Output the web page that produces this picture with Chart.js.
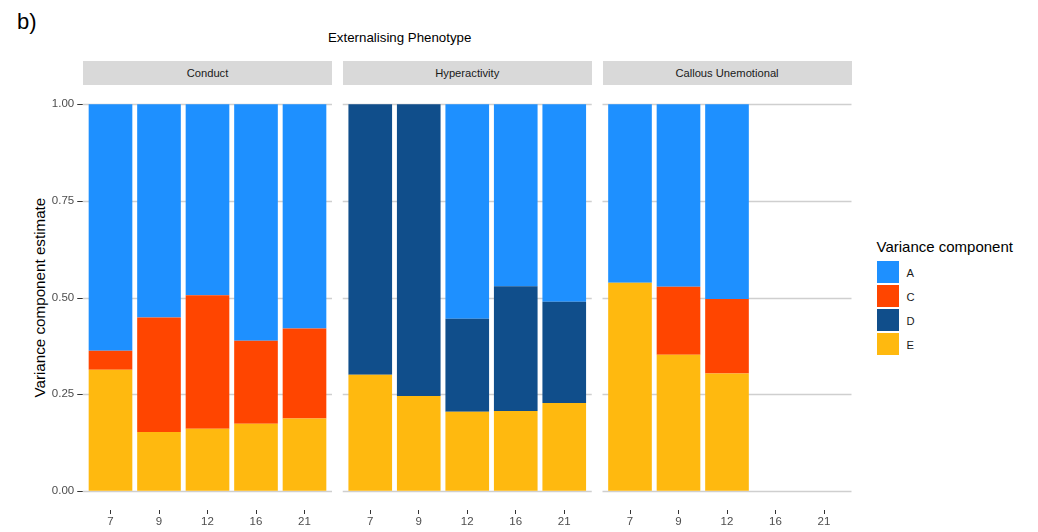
<!DOCTYPE html>
<html>
<head>
<meta charset="utf-8">
<script src="https://cdn.jsdelivr.net/npm/chart.js@4.4.0/dist/chart.umd.min.js"></script>
<style>
  body { margin: 0; background: #fff; font-family: "Liberation Sans", Arial, sans-serif; }
  #wrap { position: relative; width: 1038px; height: 532px; overflow: hidden; background: #fff; }
  #wrap canvas, .txt, .strip, .key { position: absolute; }
  .txt { line-height: 1; white-space: nowrap; }
  .strip { background: #d9d9d9; color: #1a1a1a; font-size: 11.2px; line-height: 24px; height: 24px; text-align: center; top: 61px; }
  .key { width: 22px; height: 22px; }
</style>
</head>
<body>
<div id="wrap">
  <div class="txt" style="left:17px; top:10.9px; font-size:22px; color:#000;">b)</div>
  <div class="txt" style="left:328px; top:31.3px; font-size:13.3px; color:#000;">Externalising Phenotype</div>
  <div class="txt" style="left:-110.5px; top:290px; width:300px; font-size:15.2px; text-align:center; transform:rotate(-90deg); color:#000;">Variance component estimate</div>
  <div class="txt" style="left:876.5px; top:238.8px; font-size:15px; color:#000;">Variance component</div>
</div>
<script>
// Facets and x categories (age)
const panels = ["Conduct", "Hyperactivity", "Callous Unemotional"];
const ages = ["7", "9", "12", "16", "21"];
const components = ["A", "C", "D", "E"];
const yTicks = [0, 0.25, 0.5, 0.75, 1];

// Conduct
const conductA = [0.638, 0.552, 0.494, 0.612, 0.580];
const conductC = [0.049, 0.296, 0.346, 0.215, 0.233];
const conductD = [null, null, null, null, null];
const conductE = [0.313, 0.152, 0.160, 0.173, 0.187];

// Hyperactivity
const hyperA = [null, null, 0.555, 0.471, 0.511];
const hyperC = [null, null, null, null, null];
const hyperD = [0.700, 0.755, 0.241, 0.323, 0.262];
const hyperE = [0.300, 0.245, 0.204, 0.206, 0.227];

// Callous Unemotional (no estimates at 16 and 21)
const callousA = [0.462, 0.472, 0.504, null, null];
const callousC = [null, 0.176, 0.193, null, null];
const callousD = [null, null, null, null, null];
const callousE = [0.538, 0.352, 0.303, null, null];

const panelData = [
  { A: conductA, C: conductC, D: conductD, E: conductE },
  { A: hyperA, C: hyperC, D: hyperD, E: hyperE },
  { A: callousA, C: callousC, D: callousD, E: callousE }
];

const colours = { A: "#1E90FF", C: "#FF4500", D: "#104E8B", E: "#FFB90F" };
const stackOrder = ["E", "D", "C", "A"]; // bottom to top

// canvas placement for each facet
const boxes = [
  { left: 0, width: 336, padL: 0, padR: 7.25 },
  { left: 340, width: 255, padL: 6, padR: 6.5 },
  { left: 599, width: 255, padL: 6.75, padR: 5.75 }
];
const yAxisWidth = 86.25;
const areaWidth = 242.5;
const fontFamily = '"Liberation Sans", Arial, sans-serif';

const wrap = document.getElementById("wrap");

// grey horizontal grid lines over the whole panel (a bit wider than the bars' area)
const panelGrid = {
  id: "panelGrid",
  beforeDatasetsDraw(chart, args, opts) {
    const { ctx, chartArea: a } = chart;
    const y = chart.scales.y;
    ctx.save();
    yTicks.forEach(v => {
      const py = Math.round(y.getPixelForValue(v)) + 0.5;
      ctx.strokeStyle = "#cfcfcf";
      ctx.lineWidth = 1.3;
      ctx.beginPath();
      ctx.moveTo(a.left - 3.25, py);
      ctx.lineTo(a.right + 3.25, py);
      ctx.stroke();
      if (opts.ticks) {
        ctx.strokeStyle = "#333333";
        ctx.lineWidth = 1;
        ctx.beginPath();
        ctx.moveTo(a.left - 9, py);
        ctx.lineTo(a.left - 3.5, py);
        ctx.stroke();
      }
    });
    ctx.restore();
  }
};

panels.forEach((name, i) => {
  const box = boxes[i];
  const areaLeft = box.left + (i === 0 ? yAxisWidth : box.padL);

  const strip = document.createElement("div");
  strip.className = "strip";
  strip.style.left = (areaLeft - 3.25) + "px";
  strip.style.width = (areaWidth + 6.5) + "px";
  strip.textContent = name;
  wrap.appendChild(strip);

  const canvas = document.createElement("canvas");
  canvas.width = box.width;
  canvas.height = 532;
  canvas.style.left = box.left + "px";
  canvas.style.top = "0px";
  canvas.style.width = box.width + "px";
  canvas.style.height = "532px";
  wrap.appendChild(canvas);

  new Chart(canvas, {
    type: "bar",
    data: {
      labels: ages,
      datasets: stackOrder.map(c => ({
        label: c,
        data: panelData[i][c],
        backgroundColor: colours[c],
        borderWidth: 0,
        categoryPercentage: 0.9,
        barPercentage: 1.0
      }))
    },
    options: {
      responsive: false,
      animation: false,
      devicePixelRatio: 1,
      layout: { padding: { top: 85, bottom: 0, left: box.padL, right: box.padR } },
      plugins: {
        legend: { display: false },
        tooltip: { enabled: false },
        panelGrid: { ticks: i === 0 }
      },
      scales: {
        x: {
          stacked: true,
          offset: true,
          grid: { display: true, offset: false, drawOnChartArea: false, drawTicks: true, tickLength: 4, color: "#333333", lineWidth: 1 },
          border: { display: false },
          ticks: { color: "#4d4d4d", font: { family: fontFamily, size: 11.5 }, padding: 1, maxRotation: 0 },
          afterFit: s => { s.height = 22; }
        },
        y: {
          stacked: true,
          min: -0.05,
          max: 1.05,
          display: i === 0,
          grid: { display: false, drawTicks: false },
          border: { display: false },
          ticks: { color: "#4d4d4d", font: { family: fontFamily, size: 11.5 }, padding: 12, callback: v => v.toFixed(2) },
          afterBuildTicks: s => { s.ticks = yTicks.map(v => ({ value: v })); },
          afterFit: s => { s.width = i === 0 ? yAxisWidth : 0; }
        }
      }
    },
    plugins: [panelGrid]
  });
});

// legend
components.forEach((c, k) => {
  const key = document.createElement("div");
  key.className = "key";
  key.style.left = "876.5px";
  key.style.top = (261 + k * 24.1) + "px";
  key.style.background = colours[c];
  wrap.appendChild(key);

  const lab = document.createElement("div");
  lab.className = "txt";
  lab.style.left = "906.5px";
  lab.style.top = (267.8 + k * 24.1) + "px";
  lab.style.fontSize = "11.2px";
  lab.style.color = "#1a1a1a";
  lab.textContent = c;
  wrap.appendChild(lab);
});
</script>
</body>
</html>
